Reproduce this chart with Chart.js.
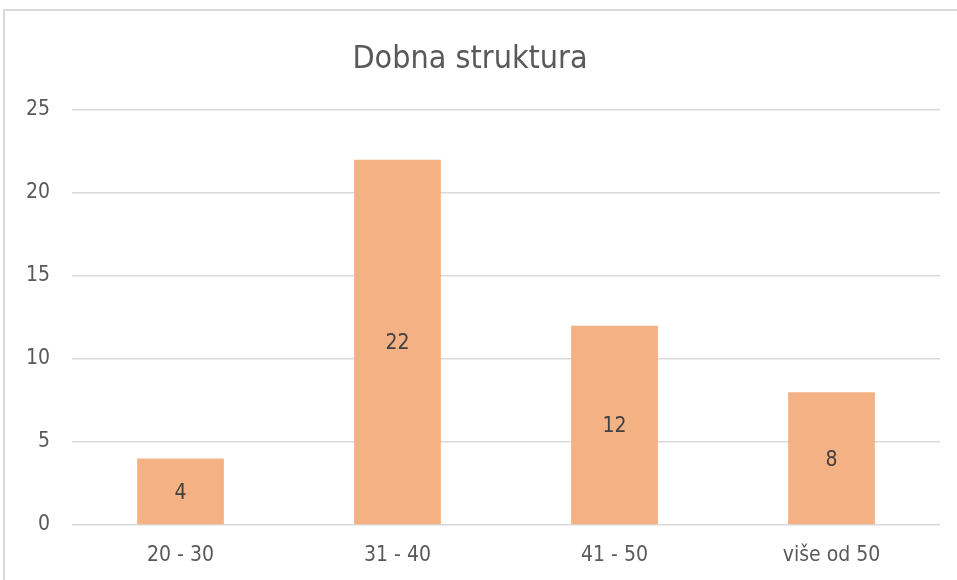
<!DOCTYPE html>
<html>
<head>
<meta charset="utf-8">
<script src="https://cdn.jsdelivr.net/npm/chart.js@4.4.0/dist/chart.umd.min.js"></script>
<style>
  body { margin: 0; background: #fff; overflow: hidden; }
  #frame { position: absolute; left: 3px; top: 9px; width: 1000px; height: 700px; border: 2px solid #d9d9d9; box-sizing: border-box; }
  #wrap { position: absolute; left: 0; top: 0; width: 957px; height: 580px; }
</style>
</head>
<body>
<div id="frame"></div>
<div id="wrap"><canvas id="myChart" width="957" height="580"></canvas></div>
<script>
const fontFamily = "'Liberation Sans Narrow', 'DejaVu Sans Condensed', 'Open Sans', sans-serif";
const textGrey = "#595959";
const barColor = "#f4b183";
const gridColor = "#d9d9d9";

const categories = ["20 - 30", "31 - 40", "41 - 50", "više od 50"];
const counts = [4, 22, 12, 8];
const yTicks = [0, 5, 10, 15, 20, 25];

// labels in the middle of each bar
const barLabels = {
  id: "barLabels",
  afterDatasetsDraw(chart) {
    const ctx = chart.ctx;
    const meta = chart.getDatasetMeta(0);
    ctx.save();
    ctx.font = "21px " + fontFamily;
    ctx.fillStyle = "#404040";
    ctx.textAlign = "center";
    ctx.textBaseline = "middle";
    meta.data.forEach((bar, i) => {
      ctx.fillText(String(counts[i]), bar.x, (bar.y + bar.base) / 2 + 2);
    });
    ctx.restore();
  }
};

const ctx = document.getElementById("myChart").getContext("2d");
new Chart(ctx, {
  type: "bar",
  data: {
    labels: categories,
    datasets: [{
      data: counts,
      backgroundColor: barColor,
      categoryPercentage: 0.4,
      barPercentage: 1
    }]
  },
  options: {
    responsive: false,
    animation: false,
    layout: { padding: { left: 0, right: 17, top: 0, bottom: 0 } },
    plugins: {
      legend: { display: false },
      tooltip: { enabled: false },
      title: {
        display: true,
        text: "Dobna struktura",
        color: textGrey,
        font: { family: fontFamily, size: 32, weight: "normal" },
        padding: { top: 40, bottom: 31.6 }
      }
    },
    scales: {
      x: {
        grid: { display: false, drawTicks: false },
        border: { display: false },
        ticks: { color: textGrey, font: { family: fontFamily, size: 21 }, padding: 18 },
        afterFit: s => { s.height = 55; }
      },
      y: {
        min: 0,
        max: 25,
        afterBuildTicks: s => { s.ticks = yTicks.map(v => ({ value: v })); },
        grid: { color: gridColor, lineWidth: 1.5, drawTicks: false },
        border: { display: false },
        ticks: { color: textGrey, font: { family: fontFamily, size: 21 }, padding: 22 },
        afterFit: s => { s.width = 72; }
      }
    }
  },
  plugins: [barLabels]
});
</script>
</body>
</html>
